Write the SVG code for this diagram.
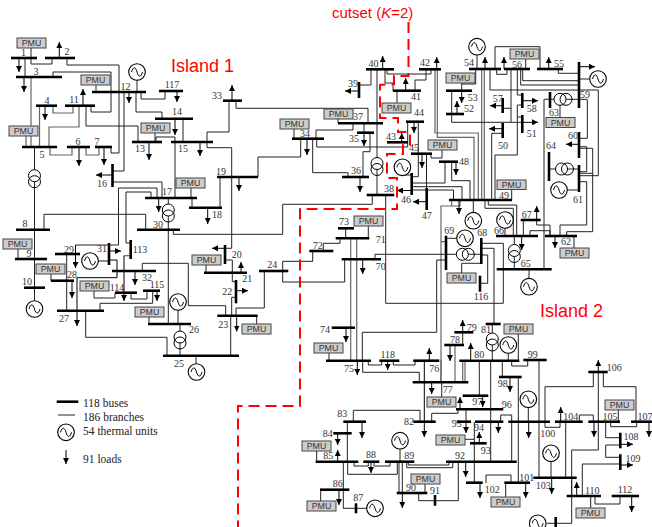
<svg xmlns="http://www.w3.org/2000/svg" xmlns:xlink="http://www.w3.org/1999/xlink" width="652" height="527" viewBox="0 0 652 527">
<style>
.c{fill:none;stroke:#222;stroke-width:1}
.g{fill:none;stroke:#666;stroke-width:1.2}
.b{fill:none;stroke:#000;stroke-width:2.6}
.a{fill:none;stroke:#000;stroke-width:1;marker-end:url(#ah)}
.l{font-family:"Liberation Serif",serif;font-size:10px;fill:#333;text-anchor:middle}
.t{font-family:"Liberation Serif",serif;font-size:11.5px;fill:#222}
.p rect{fill:#ccc;stroke:#444;stroke-width:1}
.p text{font-family:"Liberation Sans",sans-serif;font-size:8.8px;fill:#333;text-anchor:middle}
.i{font-family:"Liberation Sans",sans-serif;fill:#f00}
</style>
<defs>
<marker id="ah" markerUnits="userSpaceOnUse" markerWidth="7" markerHeight="6" refX="6" refY="3" orient="auto"><path d="M0 0L6 3L0 6z" fill="#000"/></marker>
<g id="gen"><circle r="8.3" fill="#fff" stroke="#000" stroke-width="1.1"/><path d="M-5.5 0C-4 -5.5 -1.5 -5.5 0 0S4 5.500 5.500 0" fill="none" stroke="#000" stroke-width="1"/></g>
<g id="tv"><circle cy="-3" r="6" fill="#fff" stroke="#000"/><circle cy="3" r="6" fill="none" stroke="#000"/></g>
<g id="th"><circle cx="-3" r="6" fill="#fff" stroke="#000"/><circle cx="3" r="6" fill="none" stroke="#000"/></g>
</defs>
<g id="connectors">
<path class="c" d="M25 58V77M31 48V64H52V58M67 58V65H119V153H111V147M53 77V72H111V112H91V106M124 92V171H113M141 92V99H165V91M136 92V112H162V119"/>
<path class="g" d="M31 77V147M26 136V147M39.500 106V147M53 106V113H73V106M79 106V127H49V147M50 147V155H72V147M86 147V155H99V147"/>
<path class="c" d="M86 106V126H138V142M96 85V92M137 80V92M183 119V142M155 133V142"/>
<path class="c" d="M156 142V137H175V198M207 142V132H229V101M207 142V147.700H231.700V248.300H225M113 182H162V198M118.500 245V188H157V198M109 245H118.500M126 243V192H151V198M126 243H130.700M191 188V198"/>
<path class="g" d="M130.700 255.700H124"/>
<path class="c" d="M34.500 147V300.700M44 230V214.300H145.700V230M168.300 198V324M18 249V259M51 274V281M66.700 254V311M192 198V208M220 177V208"/>
<path class="c" d="M98 261H109M94 291V298H115V293M131 293V299H147V291M152.700 291V303.300H100V311M85.700 311V337.300H167V356M149 317V324M178 310V324M180 324V356M142.300 271V263.300H188.300V305.700H225.700V316M206 265V273M196 356V364"/>
<path class="c" d="M300.700 139V157H258V177M312.700 139V172.700H348V177M316 139V130H353V123M316.700 139V147H407.700V142M294 129V139M338 119V123M236 101V108.300H368V123M364 123V133M370 133V151.700H363V177M377 69V195M371 69V85H359M387 69V74H431V69M385 69V83H393V91M415 91V80H426V69M397 91V103M407.700 122V142M418.300 122V154M426.500 154V188M442 150V158H431V154"/>
<path class="c" d="M418.300 154V176.700H411.700M412 183H445V162M451.700 162V180.700H470V200M412 186.700H462V200M412 190H453.500V200M511.700 190V200M404.500 175H411.700"/>
<path class="g" d="M435 69V133H478.300V200M437.300 69V137.300H474V200M481.700 69V200M484.300 69V200"/>
<path class="c" d="M477 55V69M495 69V46.700H540V69M496.700 69V74.300H507V69M525.700 59V69M520.700 69V85H579M522.700 69V80.700H579M558.300 69V73.300H579M579 79H590"/>
<path class="c" d="M475.700 69V84H461.700M461.700 83V91M451.700 91V122.300H522M511 69V122M503 108.300H511M517.300 69V95H522M522 105H517.300V117H522M517.300 117V155H495V200M503 133.300H491.700V200M490 69V90H598.300V175.700H579"/>
<path class="c" d="M550 99.300H579M560 105V117M550 99.300H544V269.300M549 169H579M579 99.300H587.300V138.300H579M579 148.300H592.700V173.300H579M579 146.700H586.700V171.700H579M579 190H567M579 181.700H586.700V225H560V236M592.700 173V231.700H566.700V236M574 236V248M536.700 220V225H550V236M530 236V230.700H550V236M523.300 220V236M505 228V236M485 200V208.300H513.300V236M488.300 200V205H516.700V236M514.300 236V269.300M529 269V278M473.300 200V212"/>
<path class="g" d="M460 200V206H441V381.700M441 241.700H446M451.700 200V206"/>
<path class="c" d="M375 260V254.300H446M446 238.300H457M446 254.300H481.300M461.700 273V263.300H481.300M385.700 195V303.300H503.300V243.300H481.300M481.300 255H487.700V283.300H480M481.300 248.300H494V324M362.300 360V332.300H436.700V260H446"/>
<path class="c" d="M372.300 195V204.300H282.700V234.300H173.300V230M282.700 271V261.300H312.700V251M282.700 271V282H344.700V259M264.300 271V308H236V316M323.300 251V243.300H340V238M345.700 228V238M368.300 226V238M329 353V361M232.300 260V272.700M232.300 260H225M232.300 273V281.700H236M236 297.300H231.700V316M230.700 316V356M256.700 316V324"/>
<path class="g" d="M350.700 238V360M356.700 238V360"/>
<path class="c" d="M368.300 361V365H381.700V361M393.300 361V365H415V361M362.700 361V372.300H419.300V382M353.300 422V410.300H420V422M462.700 332V345M492.300 324V361M518.300 334V361M508.300 353V361M511.700 361V366H527.700V361M479.300 361V396M490.700 361V462M502.300 361V377M539 360V478M441.700 382V397"/>
<path class="g" d="M462.700 361V382M465 361V382M455 345V382M441 360V382"/>
<path class="c" d="M431.700 422V413.300H458V409M466 409V422M465 439.300H474.300M474.300 422V483M500.700 422V415H511.700V422M511.700 422V462M518.300 377V483M486 483V475H511V483M505.700 483V497"/>
<path class="c" d="M528.300 408V422M551 462V478M545 422V427.300H560V422M593.300 372V386.700H545V422M603.300 372V386.700H636V422M598.300 372V450H571.700V523.300H555.700M547 523.300H555.700M618.300 410V422M579.300 422V415H593.300V422M610.700 422V426.700H636.700V422M605.700 422V437.700H620M620 445H605.700V457.300H620M620 464H582.300V496M590.700 496V508M595 496V504H620V496M565.700 422V478M571.700 478V496"/>
<path class="c" d="M347.300 422V462M316.700 451V462M354 462V466H368.300V462M347.700 462V474.300H397.300V462M374 462V466H390V462M400 449V462M399 462V493M402.300 462V493M425 484V493M418.700 493V500.700H458.300V462M406.700 462V467.700H452.700V462M408.300 462V465H449V462M343.300 462V508.300H356M320.700 490V501M356 508.300H367"/>
<path class="c" d="M75.500 245H109"/>
</g>
<g id="bus1"><path class="b" d="M11 58H37"/><text class="l" x="23.500" y="56">1</text><path class="a" d="M19 58V72"/></g>
<g id="bus2"><path class="b" d="M45 58H75"/><text class="l" x="67" y="55">2</text><path class="a" d="M59.300 58V42"/></g>
<g id="bus3"><path class="b" d="M16 77H62"/><text class="l" x="36" y="75">3</text><path class="a" d="M24 77V92"/></g>
<g id="bus4"><path class="b" d="M36 105.700H57"/><text class="l" x="47" y="104">4</text><path class="a" d="M45 106V120"/></g>
<g id="bus5"><path class="b" d="M22 147H57"/><text class="l" x="42" y="158">5</text></g>
<g id="t5"><use xlink:href="#tv" href="#tv" x="34.500" y="178.700"/></g>
<g id="bus6"><path class="b" d="M67 147H90"/><text class="l" x="78" y="145">6</text><path class="a" d="M79 147V166"/></g>
<g id="bus7"><path class="b" d="M95 147H112"/><text class="l" x="97" y="145">7</text><path class="a" d="M104 147V165"/></g>
<g id="bus8"><path class="b" d="M16 229.700H50"/><text class="l" x="25" y="227">8</text></g>
<g id="bus9"><path class="b" d="M15 259H47"/><text class="l" x="29" y="257">9</text></g>
<g id="bus10"><path class="b" d="M24 287.700H45"/><text class="l" x="27" y="285">10</text></g>
<g id="gen10"><use xlink:href="#gen" href="#gen" x="34.500" y="309"/></g>
<g id="bus11"><path class="b" d="M65 105.700H95"/><text class="l" x="74" y="103">11</text><path class="a" d="M83 106V89"/></g>
<g id="bus12"><path class="b" d="M92 92H146"/><text class="l" x="125.600" y="90">12</text><path class="a" d="M129 92V103"/></g>
<g id="gen12"><use xlink:href="#gen" href="#gen" x="137" y="72"/></g>
<g id="bus13"><path class="b" d="M132 142H162"/><text class="l" x="140" y="152">13</text><path class="a" d="M149 142V160"/></g>
<g id="bus14"><path class="b" d="M155 118.700H193"/><text class="l" x="177" y="115">14</text><path class="a" d="M175 119V135"/></g>
<g id="bus15"><path class="b" d="M171 142H213"/><text class="l" x="183" y="152">15</text><path class="a" d="M200 142V156"/></g>
<g id="bus16"><path class="b" d="M112.500 164V187"/><text class="l" x="102" y="187">16</text><path class="a" d="M112 175H96"/></g>
<g id="bus17"><path class="b" d="M145 198H197"/><text class="l" x="167" y="195">17</text><path class="a" d="M158.700 198V212"/></g>
<g id="t17"><use xlink:href="#tv" href="#tv" x="168.300" y="213"/></g>
<g id="bus18"><path class="b" d="M189 207.700H222"/><text class="l" x="217" y="218">18</text><path class="a" d="M207.700 208V224"/></g>
<g id="bus19"><path class="b" d="M217 177H258"/><text class="l" x="221" y="175">19</text><path class="a" d="M239 177V191"/></g>
<g id="bus20"><path class="b" d="M225 245V264"/><text class="l" x="236.700" y="258">20</text><path class="a" d="M225 248.300H212"/></g>
<g id="bus21"><path class="b" d="M204 272.700H247"/><text class="l" x="247.300" y="282">21</text><path class="a" d="M241 273V262"/></g>
<g id="bus22"><path class="b" d="M236 280V303.300"/><text class="l" x="227.300" y="295">22</text><path class="a" d="M236 290.700H248"/></g>
<g id="bus23"><path class="b" d="M217.300 315.700H257.700"/><text class="l" x="223.300" y="328">23</text><path class="a" d="M236.700 316V331.500"/></g>
<g id="bus24"><path class="b" d="M259 271H288.300"/><text class="l" x="272.300" y="268">24</text></g>
<g id="bus25"><path class="b" d="M163 355.700H239"/><text class="l" x="179" y="367">25</text></g>
<g id="gen25"><use xlink:href="#gen" href="#gen" x="196.500" y="372"/></g>
<g id="bus26"><path class="b" d="M148 324H191"/><text class="l" x="194" y="333">26</text></g>
<g id="gen26"><use xlink:href="#gen" href="#gen" x="178" y="302"/></g>
<g id="t26"><use xlink:href="#tv" href="#tv" x="180" y="340"/></g>
<g id="bus27"><path class="b" d="M57 310.700H104"/><text class="l" x="64" y="322">27</text></g>
<g id="bus28"><path class="b" d="M51 280.700H74"/><text class="l" x="72" y="278">28</text><path class="a" d="M72 281V298"/></g>
<g id="bus29"><path class="b" d="M55 254H80"/><text class="l" x="69" y="253">29</text><path class="a" d="M75.500 245V268"/></g>
<g id="bus30"><path class="b" d="M137 229.700H180"/><text class="l" x="158" y="228">30</text></g>
<g id="bus31"><path class="b" d="M109 243V265"/><text class="l" x="102" y="252">31</text><path class="a" d="M109 251H121"/><path class="a" d="M109 260H117V277.700H77V326"/></g>
<g id="gen31"><use xlink:href="#gen" href="#gen" x="90" y="261"/></g>
<g id="bus32"><path class="b" d="M112 271H156"/><text class="l" x="147" y="281">32</text><path class="a" d="M135 271V285"/></g>
<g id="bus33"><path class="b" d="M223 100.700H242"/><text class="l" x="217" y="99">33</text><path class="a" d="M232 101V85"/></g>
<g id="bus34"><path class="b" d="M292 138.700H324"/><text class="l" x="305" y="137">34</text><path class="a" d="M307 139V155"/></g>
<g id="bus35"><path class="b" d="M357 132.700H374"/><text class="l" x="354" y="142">35</text><path class="a" d="M364 133V146"/></g>
<g id="bus36"><path class="b" d="M342 177H369"/><text class="l" x="356" y="174">36</text><path class="a" d="M360 177V192"/></g>
<g id="bus37"><path class="b" d="M338 123.300H383"/><text class="l" x="358" y="120">37</text></g>
<g id="t37"><use xlink:href="#tv" href="#tv" x="377" y="166.500"/></g>
<g id="bus38"><path class="b" d="M366.700 195H394.300"/><text class="l" x="389" y="192">38</text></g>
<g id="bus39"><path class="b" d="M359 82V98"/><text class="l" x="353" y="87">39</text><path class="a" d="M359 91H345"/></g>
<g id="bus40"><path class="b" d="M366 69.300H394"/><text class="l" x="373.500" y="67">40</text><path class="a" d="M382.700 69V56"/></g>
<g id="bus41"><path class="b" d="M393 90.700H421"/><text class="l" x="416" y="100">41</text><path class="a" d="M405.700 91V78"/></g>
<g id="bus42"><path class="b" d="M419 69.300H441"/><text class="l" x="425" y="66">42</text><path class="a" d="M436.700 69V57"/></g>
<g id="bus43"><path class="b" d="M387 142.300H408"/><text class="l" x="391" y="140">43</text><path class="a" d="M401.700 142V133"/></g>
<g id="bus44"><path class="b" d="M406 121.700H424"/><text class="l" x="419" y="116">44</text><path class="a" d="M414 122V133"/></g>
<g id="bus45"><path class="b" d="M411 153.700H432"/><text class="l" x="414" y="151">45</text><path class="a" d="M422 154V168"/></g>
<g id="bus46"><path class="b" d="M411.700 173V195"/><text class="l" x="406" y="203">46</text><path class="a" d="M412 190.500H397"/></g>
<g id="gen46"><use xlink:href="#gen" href="#gen" x="402.400" y="167.300"/></g>
<g id="bus47"><path class="b" d="M426.700 188V210"/><text class="l" x="426.700" y="219">47</text><path class="a" d="M426.700 201.700H413"/></g>
<g id="bus48"><path class="b" d="M439 161.700H458"/><text class="l" x="464" y="165">48</text><path class="a" d="M456 162V175"/></g>
<g id="bus49"><path class="b" d="M449 200H512"/><text class="l" x="504" y="198.500">49</text><path class="a" d="M459 200V214"/></g>
<g id="gen49"><use xlink:href="#gen" href="#gen" x="473.300" y="220.700"/></g>
<g id="bus50"><path class="b" d="M502.700 123V138"/><text class="l" x="503" y="149">50</text><path class="a" d="M502.700 128.700H489"/></g>
<g id="bus51"><path class="b" d="M522.300 115V133"/><text class="l" x="531.700" y="137">51</text><path class="a" d="M522.300 122.300H538"/></g>
<g id="bus52"><path class="b" d="M446 114H464"/><text class="l" x="469" y="112">52</text><path class="a" d="M457 114V101"/></g>
<g id="bus53"><path class="b" d="M446 90.700H472"/><text class="l" x="472.700" y="101">53</text><path class="a" d="M461.700 91V103"/></g>
<g id="bus54"><path class="b" d="M469 69H501"/><text class="l" x="469" y="66">54</text><path class="a" d="M485 69V57"/></g>
<g id="gen54"><use xlink:href="#gen" href="#gen" x="477" y="46.700"/></g>
<g id="bus55"><path class="b" d="M537 69H563"/><text class="l" x="559" y="67">55</text><path class="a" d="M548.700 69V57"/></g>
<g id="bus56"><path class="b" d="M504 69H530"/><text class="l" x="517" y="68">56</text><path class="a" d="M504 69V57"/></g>
<g id="bus57"><path class="b" d="M502.700 98V113"/><text class="l" x="497.700" y="102">57</text><path class="a" d="M502.700 105.700H490"/></g>
<g id="bus58"><path class="b" d="M522.300 93V108"/><text class="l" x="531.700" y="112">58</text><path class="a" d="M522.300 100.700H538"/></g>
<g id="bus59"><path class="b" d="M579 62V108"/><text class="l" x="585" y="98">59</text><path class="a" d="M579 66.700H595"/></g>
<g id="gen59"><use xlink:href="#gen" href="#gen" x="598" y="79"/></g>
<g id="bus60"><path class="b" d="M579 132V158"/><text class="l" x="573" y="139">60</text><path class="a" d="M579 144.300H566"/></g>
<g id="bus61"><path class="b" d="M579 165V192"/><text class="l" x="578" y="203">61</text></g>
<g id="gen61"><use xlink:href="#gen" href="#gen" x="559" y="190"/></g>
<g id="bus62"><path class="b" d="M545 236H577"/><text class="l" x="566" y="245">62</text><path class="a" d="M555 236V248"/></g>
<g id="bus63"><path class="b" d="M550 92V108"/><text class="l" x="554" y="115.500">63</text></g>
<g id="t63"><use xlink:href="#th" href="#th" x="563" y="99.300"/></g>
<g id="bus64"><path class="b" d="M549 152V181"/><text class="l" x="551" y="149">64</text></g>
<g id="t64"><use xlink:href="#th" href="#th" x="564.500" y="169"/></g>
<g id="bus65"><path class="b" d="M496.700 269.300H551.700"/><text class="l" x="525.700" y="267">65</text></g>
<g id="gen65"><use xlink:href="#gen" href="#gen" x="529" y="286.700"/></g>
<g id="bus66"><path class="b" d="M496 236H538"/><text class="l" x="499" y="234">66</text><path class="a" d="M521.700 236V250"/></g>
<g id="gen66"><use xlink:href="#gen" href="#gen" x="505" y="220"/></g>
<g id="t66"><use xlink:href="#tv" href="#tv" x="514.300" y="253.500"/></g>
<g id="bus67"><path class="b" d="M520.700 220H540.700"/><text class="l" x="526.700" y="218">67</text><path class="a" d="M536.700 220V206"/></g>
<g id="bus68"><path class="b" d="M481.300 238V264"/><text class="l" x="482.300" y="236">68</text></g>
<g id="bus69"><path class="b" d="M446 235.700V270"/><text class="l" x="449.300" y="234">69</text></g>
<g id="gen69"><use xlink:href="#gen" href="#gen" x="465" y="238.300"/></g>
<g id="t69"><use xlink:href="#th" href="#th" x="465.300" y="254.300"/></g>
<g id="bus70"><path class="b" d="M341.700 259.300H381"/><text class="l" x="380.700" y="270">70</text><path class="a" d="M362.700 259V274"/></g>
<g id="bus71"><path class="b" d="M335.700 238.300H369.300"/><text class="l" x="380.700" y="243">71</text></g>
<g id="bus72"><path class="b" d="M309.300 251H333.300"/><text class="l" x="317.700" y="249">72</text></g>
<g id="bus73"><path class="b" d="M338 228.300H354"/><text class="l" x="344" y="225">73</text></g>
<g id="bus74"><path class="b" d="M331.700 327.700H355"/><text class="l" x="325" y="333">74</text><path class="a" d="M346 328V342"/></g>
<g id="bus75"><path class="b" d="M326 360.700H371"/><text class="l" x="349" y="372">75</text><path class="a" d="M357.300 361V375"/></g>
<g id="bus76"><path class="b" d="M413.300 360.700H439.300"/><text class="l" x="434.300" y="372">76</text><path class="a" d="M429.300 361V348"/><path class="a" d="M424.300 361V437"/></g>
<g id="bus77"><path class="b" d="M412.700 382.300H468.300"/><text class="l" x="447.700" y="393">77</text><path class="a" d="M431.700 382V394"/></g>
<g id="bus78"><path class="b" d="M444.300 345H464"/><text class="l" x="455" y="343">78</text><path class="a" d="M450 345V361"/></g>
<g id="bus79"><path class="b" d="M454.300 332.300H473.300"/><text class="l" x="471.700" y="331">79</text><path class="a" d="M462.700 332V320"/></g>
<g id="bus80"><path class="b" d="M459.300 360.700H519.300"/><text class="l" x="479.300" y="358">80</text><path class="a" d="M470.700 361V343"/></g>
<g id="bus81"><path class="b" d="M485.700 324H500.700"/><text class="l" x="486" y="333">81</text></g>
<g id="t81"><use xlink:href="#tv" href="#tv" x="492.300" y="342"/></g>
<g id="gen80"><use xlink:href="#gen" href="#gen" x="508.300" y="345"/></g>
<g id="bus82"><path class="b" d="M413.300 421.700H435.700"/><text class="l" x="409" y="425">82</text></g>
<g id="bus83"><path class="b" d="M343.300 421.700H366"/><text class="l" x="342.300" y="417">83</text><path class="a" d="M362 422V438"/></g>
<g id="bus84"><path class="b" d="M333.300 433.300H351.700"/><text class="l" x="327.700" y="437">84</text><path class="a" d="M337.700 433V445"/></g>
<g id="bus85"><path class="b" d="M315.700 461.700H358.300"/><text class="l" x="328.300" y="459">85</text><path class="a" d="M337.700 462V450"/></g>
<g id="bus86"><path class="b" d="M320 489.700H349.300"/><text class="l" x="337.700" y="487">86</text><path class="a" d="M339 490V505"/></g>
<g id="bus87"><path class="b" d="M356 503.300V513.300"/><text class="l" x="358.300" y="501">87</text></g>
<g id="gen87"><use xlink:href="#gen" href="#gen" x="375" y="508.300"/></g>
<g id="bus88"><path class="b" d="M363.300 461.700H379.300"/><text class="l" x="371" y="458">88</text><path class="a" d="M371 462V473"/></g>
<g id="bus89"><path class="b" d="M385 461.700H414.300"/><text class="l" x="409.300" y="459">89</text></g>
<g id="gen89"><use xlink:href="#gen" href="#gen" x="400" y="440.700"/></g>
<g id="bus90"><path class="b" d="M396.700 493H427.300"/><text class="l" x="411" y="491">90</text><path class="a" d="M402.300 493V508"/></g>
<g id="bus91"><path class="b" d="M435 495V505.700"/><text class="l" x="435" y="494">91</text></g>
<g id="bus92"><path class="b" d="M446 461.700H516.700"/><text class="l" x="460" y="459">92</text><path class="a" d="M465.700 462V477"/></g>
<g id="bus93"><path class="b" d="M470 443.300H486.700"/><text class="l" x="485.700" y="454">93</text><path class="a" d="M479.300 443V432"/></g>
<g id="bus94"><path class="b" d="M475 421.700H503.300"/><text class="l" x="479" y="431">94</text><path class="a" d="M498.300 422V433"/></g>
<g id="bus95"><path class="b" d="M456.700 421.700H471"/><text class="l" x="456.700" y="427">95</text><path class="a" d="M466 422V433"/></g>
<g id="bus96"><path class="b" d="M456 409.300H503.300"/><text class="l" x="506.700" y="408">96</text><path class="a" d="M460 409V397"/></g>
<g id="bus97"><path class="b" d="M462.700 395.700H488.300"/><text class="l" x="477.300" y="405">97</text><path class="a" d="M482.700 396V407"/></g>
<g id="bus98"><path class="b" d="M499 377H521.700"/><text class="l" x="502.700" y="387">98</text><path class="a" d="M510 377V392"/></g>
<g id="bus99"><path class="b" d="M523.300 360H546.700"/><text class="l" x="532.700" y="358">99</text></g>
<g id="bus100"><path class="b" d="M508.300 421.700H550"/><text class="l" x="547.700" y="437">100</text><path class="a" d="M528.700 422V438"/></g>
<g id="gen100"><use xlink:href="#gen" href="#gen" x="528.300" y="399.300"/></g>
<g id="bus101"><path class="b" d="M504.300 482.700H530"/><text class="l" x="526.700" y="481">101</text><path class="a" d="M525.700 483V498"/></g>
<g id="bus102"><path class="b" d="M466 482.700H482.700"/><text class="l" x="492.300" y="493">102</text><path class="a" d="M480 483V498"/></g>
<g id="bus103"><path class="b" d="M533.300 477.700H576.700"/><text class="l" x="543.300" y="489">103</text><path class="a" d="M551.700 478V494"/></g>
<g id="gen103"><use xlink:href="#gen" href="#gen" x="551" y="453.300"/></g>
<g id="bus104"><path class="b" d="M555 421.700H582.700"/><text class="l" x="570.700" y="420">104</text><path class="a" d="M560.700 422V407"/></g>
<g id="bus105"><path class="b" d="M588.300 421.700H620"/><text class="l" x="610" y="420">105</text><path class="a" d="M594 422V437"/></g>
<g id="bus106"><path class="b" d="M588.300 372H607.700"/><text class="l" x="614.300" y="371">106</text><path class="a" d="M598.300 372V360"/></g>
<g id="bus107"><path class="b" d="M631 421.700H652"/><text class="l" x="645" y="420">107</text><path class="a" d="M649 422V437"/></g>
<g id="bus108"><path class="b" d="M620.300 432.700V448.300"/><text class="l" x="631" y="440">108</text><path class="a" d="M620.300 444.300H633"/></g>
<g id="bus109"><path class="b" d="M620.300 454.300V470"/><text class="l" x="633" y="462">109</text><path class="a" d="M620.300 465H633"/></g>
<g id="bus110"><path class="b" d="M566.700 496H601"/><text class="l" x="592.300" y="494">110</text><path class="a" d="M576.700 496V482"/></g>
<g id="bus111"><path class="b" d="M555.700 517V527"/></g>
<g id="gen111"><use xlink:href="#gen" href="#gen" x="537.700" y="523.300"/></g>
<g id="bus112"><path class="b" d="M611.700 496H639"/><text class="l" x="625" y="493">112</text><path class="a" d="M631.700 496V512"/></g>
<g id="bus113"><path class="b" d="M130.700 240V259"/><text class="l" x="140" y="253">113</text></g>
<g id="bus114"><path class="b" d="M115 292.700H137"/><text class="l" x="117" y="291">114</text><path class="a" d="M124 255.700V301"/></g>
<g id="bus115"><path class="b" d="M143 290.700H160"/><text class="l" x="157" y="288">115</text><path class="a" d="M157 291V301"/></g>
<g id="bus116"><path class="b" d="M480 275.700V291.700"/><text class="l" x="481" y="300">116</text></g>
<g id="bus117"><path class="b" d="M159 91H183"/><text class="l" x="172" y="88">117</text><path class="a" d="M177 91V102"/></g>
<g id="bus118"><path class="b" d="M379.300 360.700H399.300"/><text class="l" x="387.700" y="358">118</text><path class="a" d="M387.700 361V370"/></g>
<g id="pmu1" class="p"><rect x="17" y="38" width="29" height="10"/><text x="31.500" y="46.200">PMU</text></g>
<g id="pmu12" class="p"><rect x="81" y="75" width="29" height="10"/><text x="95.500" y="83.200">PMU</text></g>
<g id="pmu5" class="p"><rect x="9" y="126" width="29" height="10"/><text x="23.500" y="134.200">PMU</text></g>
<g id="pmu13" class="p"><rect x="141" y="123" width="29" height="10"/><text x="155.500" y="131.200">PMU</text></g>
<g id="pmu17" class="p"><rect x="176" y="178" width="29" height="10"/><text x="190.500" y="186.200">PMU</text></g>
<g id="pmu9" class="p"><rect x="3" y="239" width="29" height="10"/><text x="17.500" y="247.200">PMU</text></g>
<g id="pmu28" class="p"><rect x="36" y="264" width="29" height="10"/><text x="50.500" y="272.200">PMU</text></g>
<g id="pmu114" class="p"><rect x="80" y="281" width="29" height="10"/><text x="94.500" y="289.200">PMU</text></g>
<g id="pmu26" class="p"><rect x="135" y="307" width="29" height="10"/><text x="149.500" y="315.200">PMU</text></g>
<g id="pmu21" class="p"><rect x="192" y="255" width="29" height="10"/><text x="206.500" y="263.200">PMU</text></g>
<g id="pmu23" class="p"><rect x="242" y="324" width="29" height="10"/><text x="256.500" y="332.200">PMU</text></g>
<g id="pmu34" class="p"><rect x="280" y="119" width="29" height="10"/><text x="294.500" y="127.200">PMU</text></g>
<g id="pmu37" class="p"><rect x="324" y="109" width="29" height="10"/><text x="338.500" y="117.200">PMU</text></g>
<g id="pmu41" class="p"><rect x="382" y="103" width="29" height="10"/><text x="396.500" y="111.200">PMU</text></g>
<g id="pmu73" class="p"><rect x="354" y="216" width="29" height="10"/><text x="368.500" y="224.200">PMU</text></g>
<g id="pmu75" class="p"><rect x="314" y="343" width="29" height="10"/><text x="328.500" y="351.200">PMU</text></g>
<g id="pmu48" class="p"><rect x="428" y="140" width="29" height="10"/><text x="442.500" y="148.200">PMU</text></g>
<g id="pmu53" class="p"><rect x="446" y="73" width="29" height="10"/><text x="460.500" y="81.200">PMU</text></g>
<g id="pmu56" class="p"><rect x="510" y="49" width="29" height="10"/><text x="524.500" y="57.200">PMU</text></g>
<g id="pmu49" class="p"><rect x="497" y="180" width="29" height="9.500"/><text x="511.500" y="188">PMU</text></g>
<g id="pmu63" class="p"><rect x="546" y="117.500" width="29" height="10"/><text x="560.500" y="125.700">PMU</text></g>
<g id="pmu62" class="p"><rect x="560" y="248" width="29" height="10"/><text x="574.500" y="256.200">PMU</text></g>
<g id="pmu69" class="p"><rect x="447" y="273" width="29" height="10"/><text x="461.500" y="281.200">PMU</text></g>
<g id="pmu81" class="p"><rect x="504" y="324" width="29" height="10"/><text x="518.500" y="332.200">PMU</text></g>
<g id="pmu77" class="p"><rect x="427" y="397" width="29" height="10"/><text x="441.500" y="405.200">PMU</text></g>
<g id="pmu95" class="p"><rect x="436" y="435" width="29" height="10"/><text x="450.500" y="443.200">PMU</text></g>
<g id="pmu85" class="p"><rect x="302" y="441" width="29" height="10"/><text x="316.500" y="449.200">PMU</text></g>
<g id="pmu86" class="p"><rect x="307" y="501" width="29" height="10"/><text x="321.500" y="509.200">PMU</text></g>
<g id="pmu90" class="p"><rect x="411" y="474" width="29" height="10"/><text x="425.500" y="482.200">PMU</text></g>
<g id="pmu101" class="p"><rect x="491" y="497" width="29" height="10"/><text x="505.500" y="505.200">PMU</text></g>
<g id="pmu105" class="p"><rect x="605" y="400" width="29" height="10"/><text x="619.500" y="408.200">PMU</text></g>
<g id="pmu110" class="p"><rect x="576" y="508" width="29" height="10"/><text x="590.500" y="516.200">PMU</text></g>
<g id="cutset"><path d="M408.500 22V76H394V84L380 85V118H398V132H410V145H403V154H387V178H397V209H300V406H238V527" fill="none" stroke="#f00" stroke-width="2" stroke-dasharray="11 6"/></g>
<g id="labels">
<text class="i" x="332" y="18" font-size="15">cutset (<tspan font-style="italic">K</tspan>=2)</text>
<text class="i" x="171" y="71.500" font-size="18">Island 1</text>
<text class="i" x="540" y="317" font-size="18">Island 2</text>
</g>
<g id="legend">
<path class="b" d="M56.700 401.700H78.300"/><path class="c" d="M58 415H75"/><use xlink:href="#gen" href="#gen" x="66" y="432.300"/><path class="a" d="M66 450V464"/>
<text class="t" x="83" y="406.500">118 buses</text><text class="t" x="83" y="420.500">186 branches</text><text class="t" x="83" y="435">54 thermal units</text><text class="t" x="83" y="463">91 loads</text>
</g>
</svg>
